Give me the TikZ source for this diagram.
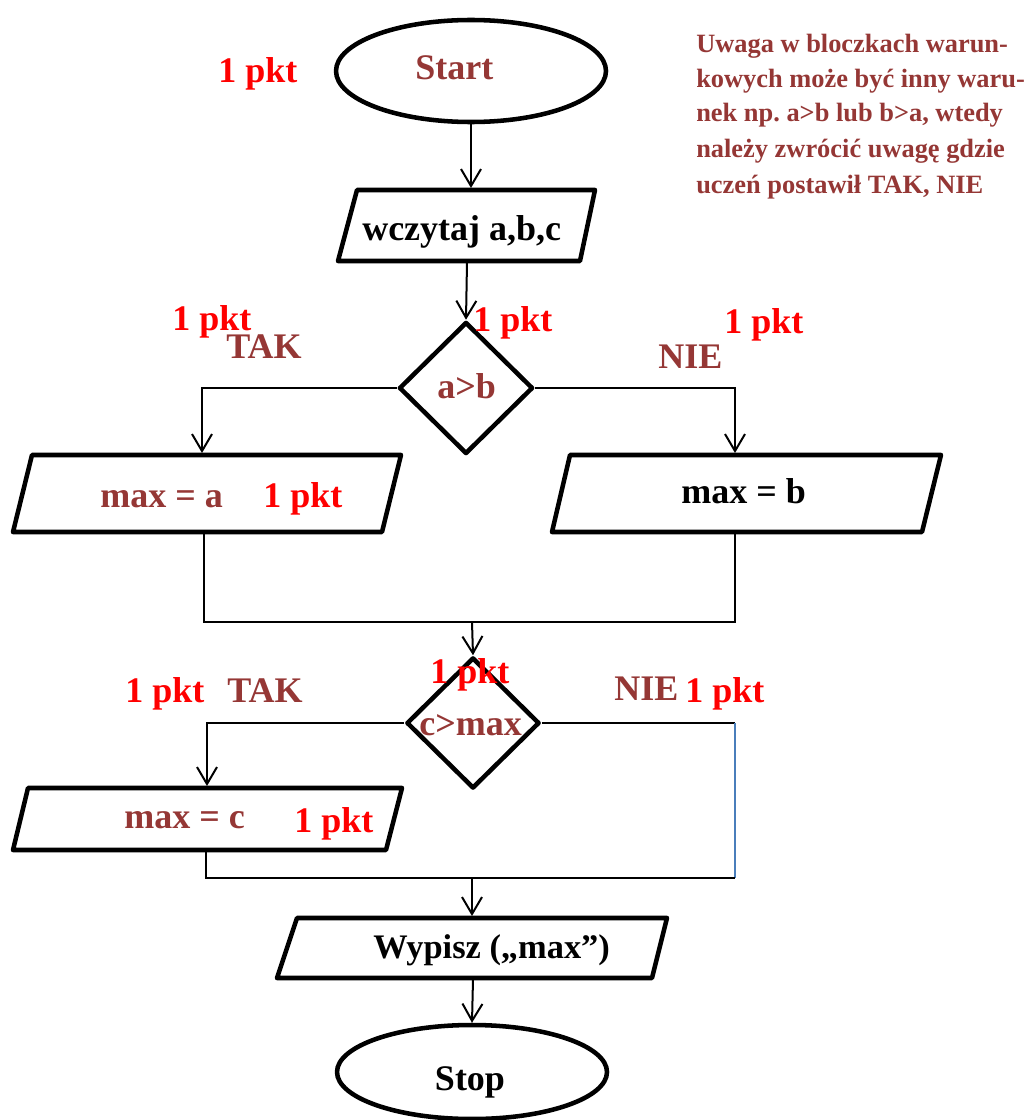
\documentclass[tikz,border=0pt]{standalone}
\usepackage{fontspec}
\setmainfont{Liberation Serif}
\usetikzlibrary{shapes.geometric,arrows.meta}
\frenchspacing
\definecolor{dred}{RGB}{149,55,53}
\definecolor{pkt}{RGB}{255,0,0}
\definecolor{lblue}{RGB}{74,126,187}
\tikzset{
  txt/.style={font=\bfseries\fontsize{27}{32}\selectfont, inner sep=0pt, anchor=base west},
  notetxt/.style={font=\bfseries\fontsize{19.8}{26}\selectfont, inner sep=0pt, anchor=base west, text=dred},
  boxline/.style={draw=black, line width=3.4pt, line join=round},
  conn/.style={draw=black, line width=1.5pt},
  arr/.style={conn, -{Straight Barb[length=12.75pt, width=15pt]}},
  term/.style={ellipse, boxline, inner sep=0pt, minimum width=202.5pt},
  decide/.style={diamond, boxline, inner sep=0pt},
}
\begin{document}
\begin{tikzpicture}[x=0.75pt,y=-0.75pt]
\fill[white] (0,0) rectangle (1029,1120);
\useasboundingbox (0,0) rectangle (1029,1120);

% shapes
\node[term, minimum height=76.5pt] (start) at (471,71) {};
\draw[boxline] (357,190) -- (595,190) -- (580,261) -- (338,261) -- cycle;
\node[decide, minimum width=100.5pt, minimum height=99pt] (d1) at (466,388) {};
\draw[boxline] (32,455) -- (401,455) -- (382,532) -- (13,532) -- cycle;
\draw[boxline] (570,455) -- (941,455) -- (922,532) -- (552,532) -- cycle;
\node[decide, minimum width=99.75pt, minimum height=98.25pt] (d2) at (473,723) {};
\draw[boxline] (28,788) -- (402,788) -- (386,850) -- (13,850) -- cycle;
\draw[boxline] (297,918) -- (667,918) -- (652,978) -- (277,978) -- cycle;
\node[term, minimum height=70.5pt] (stop) at (472,1072) {};

% connection points
\coordinate (intop) at (471,188);
\coordinate (inbot) at (467,262);
\coordinate (matop) at (202,453);
\coordinate (mbtop) at (735,453);
\coordinate (mabot) at (204,533);
\coordinate (mbbot) at (735,533);
\coordinate (merge1) at (472,622);
\coordinate (mctop) at (207,786);
\coordinate (mcbot) at (206,851);
\coordinate (nieend) at (735,723);
\coordinate (merge2) at (472,878);
\coordinate (outtop) at (472,916);
\coordinate (outbot) at (473,979);

% connectors
\draw[arr] (start.south) -- (intop);
\draw[arr] (inbot) -- (d1.north);
\draw[arr] (d1.west) -| (matop);
\draw[arr] (d1.east) -| (mbtop);
\draw[conn] (mabot) |- (merge1) -| (mbbot);
\draw[arr] (merge1) -- (d2.north);
\draw[arr] (d2.west) -| (mctop);
\draw[conn] (d2.east) -- (nieend);
\draw[draw=lblue, line width=1.1pt] (nieend) -- (735,878);
\draw[conn] (mcbot) |- (merge2) -- (735,878);
\draw[arr] (merge2) -- (outtop);
\draw[arr] (outbot) -- (stop.north);

% texts
\node[txt, text=pkt] (k1) at (218,83) {1 pkt};
\node[txt, text=dred] (tstart) at (415,80) {Start};
\node[txt] (tin) at (362,240) {wczytaj a,b,c};
\node[notetxt] (n1) at (696,53) {Uwaga w bloczkach warun-};
\node[notetxt] (n2) at (696,88) {kowych może być inny waru-};
\node[notetxt] (n3) at (696,122) {nek np. a>b lub b>a, wtedy};
\node[notetxt] (n4) at (696,157) {należy zwrócić uwagę gdzie};
\node[notetxt] (n5) at (696,193) {uczeń postawił TAK, NIE};
\node[txt, text=pkt] (k2) at (172,330) {1 pkt};
\node[txt, text=dred] (tak1) at (226,358) {TAK};
\node[txt, text=pkt] (k3) at (473,331) {1 pkt};
\node[txt, text=pkt] (k4) at (724,333) {1 pkt};
\node[txt, text=dred] (nie1) at (658,368) {NIE};
\node[txt, text=dred] (tab) at (437,398) {a>b};
\node[txt, text=dred] (tma) at (100,507) {max = a};
\node[txt, text=pkt] (k5) at (263,507) {1 pkt};
\node[txt] (tmb) at (681,503) {max = b};
\node[txt, text=pkt] (k6) at (430,683) {1 pkt};
\node[txt, text=pkt] (k7) at (125,702) {1 pkt};
\node[txt, text=dred] (tak2) at (227,702) {TAK};
\node[txt, text=dred] (nie2) at (614,700) {NIE};
\node[txt, text=pkt] (k8) at (685,702) {1 pkt};
\node[txt, text=dred] (tcm) at (419,735) {c>max};
\node[txt, text=dred] (tmc) at (124,828) {max = c};
\node[txt, text=pkt] (k9) at (294,832) {1 pkt};
\node[txt, font=\bfseries\fontsize{25.8}{31}\selectfont] (tout) at (373,958) {Wypisz („max”)};
\node[txt, anchor=base] (tstop) at (470,1090) {Stop};
\end{tikzpicture}
\end{document}
